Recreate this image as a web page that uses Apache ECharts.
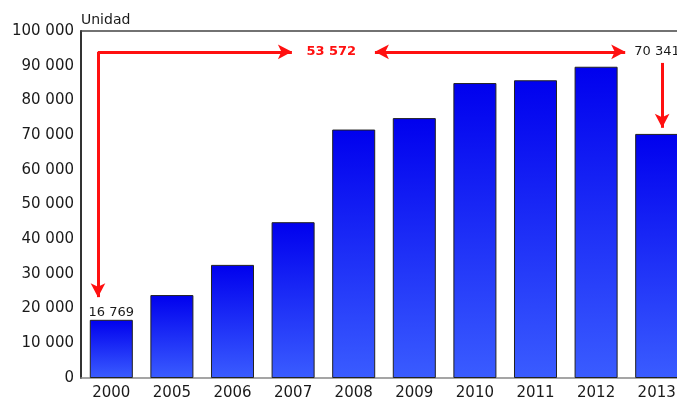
<!DOCTYPE html>
<html>
<head>
<meta charset="utf-8">
<script src="https://cdn.jsdelivr.net/npm/echarts@6/dist/echarts.min.js"></script>
<style>html,body{margin:0;padding:0;background:#fff;overflow:hidden;width:677px;height:401px;}#c{width:687px;height:401px;}</style>
</head>
<body>
<div id="c"></div>
<script>
const categories = ['2000','2005','2006','2007','2008','2009','2010','2011','2012','2013'];
const values = [16769, 23900, 32600, 44900, 71600, 74900, 85000, 85800, 89700, 70341];
const yTicks = [0, 10000, 20000, 30000, 40000, 50000, 60000, 70000, 80000, 90000, 100000];
const unitLabel = 'Unidad';
const growthLabel = '53 572';
const endLabel = '70 341';
const startLabel = '16 769';

function fmt(v){ return String(v).replace(/\B(?=(\d{3})+(?!\d))/g, ' '); }

const chart = echarts.init(document.getElementById('c'));
const red = '#ff1010';
const arrowLine = {color: red, width: 3, type: 'solid'};
chart.setOption({
  animation: false,
  grid: {left: 81, top: 31, right: 0, bottom: 22, containLabel: false},
  xAxis: [{
    type: 'category', data: categories,
    axisLine: {show: true, lineStyle: {color: '#888', width: 1.5}},
    axisTick: {show: false},
    axisLabel: {color: '#1a1a1a', fontFamily: 'DejaVu Sans', fontSize: 15, margin: 8}
  }, {
    type: 'value', min: 0, max: 10, position: 'top',
    axisLine: {show: true, onZero: false, lineStyle: {color: '#444', width: 1.5}},
    axisTick: {show: false}, axisLabel: {show: false}, splitLine: {show: false}
  }],
  yAxis: {
    type: 'value', min: 0, max: 100000, interval: 10000,
    name: unitLabel, nameLocation: 'end', nameGap: 4,
    nameTextStyle: {color: '#1a1a1a', fontFamily: 'DejaVu Sans', fontSize: 14, align: 'left', padding: [0,0,0,0]},
    axisLine: {show: true, lineStyle: {color: '#333', width: 2}},
    axisTick: {show: false},
    splitLine: {show: false},
    axisLabel: {color: '#1a1a1a', fontFamily: 'DejaVu Sans', fontSize: 15, margin: 7, formatter: v => fmt(v)}
  },
  series: [{
    type: 'bar',
    barWidth: '71%',
    data: values.map((v, i) => i === 0 ? {value: v, label: {show: true, position: 'top', distance: 1, formatter: startLabel, color: '#1a1a1a', fontFamily: 'DejaVu Sans', fontSize: 13}} : v),
    itemStyle: {
      borderColor: '#222', borderWidth: 1,
      color: new echarts.graphic.LinearGradient(0, 0, 0, 1, [
        {offset: 0, color: '#0000ee'},
        {offset: 1, color: '#3a5cff'}
      ])
    }
  }, {
    type: 'line', xAxisIndex: 1, data: [],
    markLine: {
      silent: true, symbolSize: [11, 14], precision: 2,
      lineStyle: arrowLine, label: {show: false},
      data: [
        [{coord: [0.28, 94000], symbol: 'none'}, {coord: [0.28, 23300], symbol: 'arrow'}],
        [{coord: [0.28, 94000], symbol: 'none'}, {coord: [3.48, 94000], symbol: 'arrow'}],
        [{coord: [4.85, 94000], symbol: 'arrow'}, {coord: [8.98, 94000], symbol: 'arrow'}],
        [{coord: [9.59, 90800], symbol: 'none'}, {coord: [9.59, 72100], symbol: 'arrow'}]
      ]
    },
    markPoint: {
      silent: true, symbol: 'circle', symbolSize: 0,
      data: [
        {coord: [4.13, 94000], label: {show: true, formatter: growthLabel, color: red, fontWeight: 'bold', fontFamily: 'DejaVu Sans', fontSize: 13, position: 'inside'}},
        {coord: [9.13, 94000], label: {show: true, formatter: endLabel, color: '#1a1a1a', fontFamily: 'DejaVu Sans', fontSize: 13, position: 'right', distance: 0}}
      ]
    }
  }]
});
</script>
</body>
</html>
